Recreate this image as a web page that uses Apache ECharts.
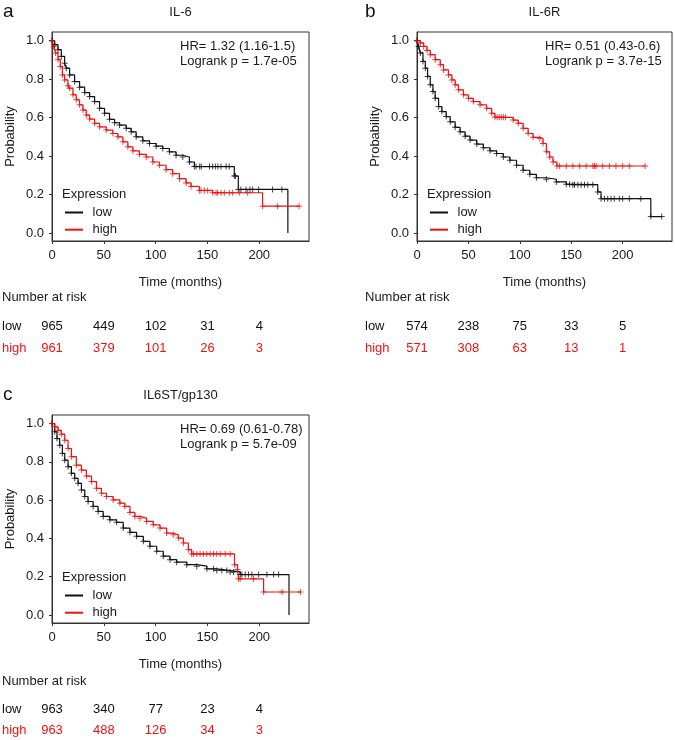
<!DOCTYPE html>
<html><head><meta charset="utf-8">
<script src="https://cdn.jsdelivr.net/npm/echarts@6/dist/echarts.min.js"></script>
<style>html,body{margin:0;padding:0;background:#fff}#c{width:675px;height:740px}</style>
</head><body><div id="c"></div><script>
// ---------- data ----------
const xTicks = [0, 50, 100, 150, 200];
const yTicks = [0, 0.2, 0.4, 0.6, 0.8, 1.0];
const riskTimes = [0, 50, 100, 150, 200];
const riskRows = ['low', 'high'];

// Panel a: IL-6
const aLow = [[0,1],[2.6,0.979],[5.8,0.953],[9,0.918],[12.2,0.883],[13.8,0.857],[17,0.822],[21.8,0.787],[26.6,0.758],[31.5,0.73],[36.3,0.709],[41.1,0.683],[45.9,0.648],[50.7,0.622],[55.5,0.591],[60.4,0.573],[65.2,0.561],[71.6,0.544],[76.4,0.526],[81.2,0.5],[87.6,0.479],[94.1,0.465],[100.5,0.451],[106.9,0.439],[113.3,0.422],[119.7,0.404],[126.2,0.395],[132.6,0.369],[137.4,0.345],[175.9,0.296],[179.8,0.226],[227.6,0]];
const aLowCens = [[139,0.345],[142.5,0.345],[144,0.345],[152,0.345],[155,0.345],[157.6,0.345],[160,0.345],[163,0.345],[168,0.345],[171,0.345],[177,0.296],[182.3,0.226],[187.2,0.226],[191,0.226],[193.6,0.226],[199.4,0.226],[212.8,0.226],[221.8,0.226]];
const aHigh = [[0,1],[1.6,0.97],[3.5,0.936],[5.8,0.901],[8,0.866],[10,0.822],[12.2,0.796],[15.4,0.765],[17,0.753],[20.2,0.718],[23.4,0.692],[26.6,0.666],[29.9,0.639],[33.1,0.613],[36.3,0.592],[41.1,0.57],[45.9,0.552],[52.3,0.535],[58.7,0.517],[63.6,0.5],[68.4,0.474],[73.2,0.448],[78,0.427],[84.4,0.409],[90.9,0.395],[97.3,0.369],[103.7,0.352],[110.1,0.329],[116.5,0.308],[123,0.282],[129.4,0.26],[134.2,0.242],[142.2,0.221],[155.1,0.209],[203.2,0.139],[238.5,0.139]];
const aHighCens = [[143.8,0.221],[147,0.221],[150.2,0.221],[158.3,0.209],[159.8,0.209],[163.1,0.209],[166.3,0.209],[171.1,0.209],[174.3,0.209],[180.7,0.209],[188.8,0.209],[217.7,0.139]];
const aRiskLow = [965, 449, 102, 31, 4];
const aRiskHigh = [961, 379, 101, 26, 3];

// Panel b: IL-6R
const bLow = [[0,1],[1.6,0.97],[3.2,0.936],[5.8,0.892],[8.1,0.857],[10.3,0.814],[12.9,0.77],[15.5,0.735],[17.7,0.7],[21,0.657],[24.2,0.631],[28.4,0.605],[32.3,0.578],[37.1,0.549],[41.9,0.526],[46.8,0.503],[51.6,0.483],[58.1,0.462],[64.5,0.443],[71,0.427],[77.4,0.413],[83.9,0.395],[90.3,0.378],[96.8,0.352],[103.2,0.326],[109.7,0.305],[116.1,0.287],[125.8,0.279],[135.5,0.265],[145.2,0.253],[151.6,0.251],[175.8,0.213],[179,0.178],[227.4,0.085],[238,0.085]];
const bLowCens = [[148.4,0.253],[153.2,0.251],[156.5,0.251],[159.7,0.251],[162.9,0.251],[166.1,0.251],[171,0.251],[182.3,0.178],[185.5,0.178],[188.7,0.178],[191.9,0.178],[196.8,0.178],[200,0.178],[206.5,0.178],[217.7,0.178]];
const bHigh = [[0,1],[3.2,0.988],[6.5,0.97],[9.7,0.949],[12.9,0.927],[17.7,0.901],[22.6,0.875],[25.8,0.848],[30.6,0.822],[33.9,0.796],[37.1,0.77],[40.3,0.744],[45.2,0.718],[50,0.7],[54.8,0.683],[61.3,0.666],[67.7,0.648],[72.6,0.622],[75.8,0.601],[93.5,0.587],[98.4,0.57],[103.2,0.544],[108.1,0.517],[112.9,0.497],[119.4,0.491],[122.6,0.465],[125.8,0.422],[129,0.395],[132.3,0.369],[136.1,0.348],[221.9,0.348]];
const bHighCens = [[78,0.601],[80,0.601],[82,0.601],[84,0.601],[86,0.601],[138.7,0.348],[145.2,0.348],[151.6,0.348],[158.1,0.348],[164.5,0.348],[171,0.348],[172.6,0.348],[174.2,0.348],[180.6,0.348],[187.1,0.348],[193.5,0.348],[200,0.348],[206.5,0.348]];
const bRiskLow = [574, 238, 75, 33, 5];
const bRiskHigh = [571, 308, 63, 13, 1];

// Panel c: IL6ST/gp130
const cLow = [[0,1],[2.6,0.957],[4.8,0.922],[7.4,0.887],[10,0.844],[12.3,0.809],[15.5,0.775],[18.7,0.74],[21.9,0.714],[25.2,0.688],[28.4,0.653],[31.6,0.619],[34.8,0.593],[39.7,0.567],[44.5,0.541],[49.4,0.515],[55.8,0.497],[62.3,0.484],[68.7,0.454],[75.2,0.432],[81.6,0.411],[88.1,0.385],[94.5,0.359],[101,0.333],[107.4,0.307],[113.9,0.289],[120.3,0.276],[130,0.263],[139.7,0.255],[149.4,0.241],[159,0.232],[171.9,0.225],[181.6,0.211],[228.7,0]];
const cLowCens = [[155.8,0.241],[163.9,0.232],[168.7,0.232],[175.2,0.225],[183.2,0.211],[186.5,0.211],[189.7,0.211],[192.9,0.211],[199.4,0.211],[207.4,0.211],[213.9,0.211],[218.7,0.211]];
const cHigh = [[0,1],[2.6,0.983],[5.8,0.965],[9,0.945],[12.3,0.913],[15.5,0.87],[18.7,0.827],[23.5,0.783],[28.4,0.757],[33.2,0.726],[38.1,0.697],[42.9,0.662],[47.7,0.636],[52.6,0.619],[59,0.601],[65.5,0.584],[70.3,0.567],[75.2,0.536],[80,0.515],[84.8,0.506],[91.3,0.489],[97.7,0.471],[104.2,0.454],[110.6,0.428],[117.1,0.419],[121.9,0.402],[126.8,0.376],[131.6,0.341],[134.8,0.319],[176.1,0.263],[179,0.237],[180,0.189],[204.2,0.12],[239.7,0.12]];
const cHighCens = [[136.5,0.319],[139.7,0.319],[142.9,0.319],[146.1,0.319],[149.4,0.319],[152.6,0.319],[155.8,0.319],[159,0.319],[162.3,0.319],[167.1,0.319],[171.9,0.319],[181.6,0.189],[194.5,0.189],[221.9,0.12]];
const cRiskLow = [963, 340, 77, 23, 4];
const cRiskHigh = [963, 488, 126, 34, 3];

// ---------- layout / style ----------
const FONT = '"Liberation Sans", Arial, Helvetica, sans-serif';
const RED = '#f01212';
const BLACK = '#111111';
const AX = '#333333';
const PLUS = 'path://M2.5,0H3.5V2.5H6V3.5H3.5V6H2.5V3.5H0V2.5H2.5Z';
const XMAX = 248, YMIN = -0.042, YMAX = 1.045;

const panels = [
  {grid:{left:52, top:32, width:257, height:209}, risk:{top:316, height:43}, nar:[2,297.5], letter:['a',3,12],
   title:'IL-6', hr:'HR= 1.32 (1.16-1.5)', p:'Logrank p = 1.7e-05', ylMargin:50,
   low:aLow, high:aHigh, lowC:aLowCens, highC:aHighCens, rLow:aRiskLow, rHigh:aRiskHigh},
  {grid:{left:417, top:32, width:255, height:209}, risk:{top:316, height:43}, nar:[365,297.5], letter:['b',365,12],
   title:'IL-6R', hr:'HR= 0.51 (0.43-0.6)', p:'Logrank p = 3.7e-15', ylMargin:52,
   low:bLow, high:bHigh, lowC:bLowCens, highC:bHighCens, rLow:bRiskLow, rHigh:bRiskHigh},
  {grid:{left:52, top:415, width:257, height:208}, risk:{top:698.5, height:43}, nar:[2,681], letter:['c',3,395],
   title:'IL6ST/gp130', hr:'HR= 0.69 (0.61-0.78)', p:'Logrank p = 5.7e-09', ylMargin:50,
   low:cLow, high:cHigh, lowC:cLowCens, highC:cHighCens, rLow:cRiskLow, rHigh:cRiskHigh}
];

const grids = [], xAxes = [], yAxes = [], series = [], graphics = [];
const txt = (text, x, y, opt) => ({type:'text', x, y, silent:true,
  style: Object.assign({text, font:'13px ' + FONT, fill:'#1a1a1a', textVerticalAlign:'middle'}, opt||{})});

panels.forEach((P, i) => {
  grids[i] = Object.assign({show:true, borderColor:AX, borderWidth:1, backgroundColor:'transparent', containLabel:false, outerBoundsMode:'none'}, P.grid);
  xAxes[i] = {type:'value', gridIndex:i, min:0, max:XMAX,
    name:'Time (months)', nameLocation:'middle', nameGap:35,
    nameTextStyle:{fontFamily:FONT, fontSize:13, color:'#1a1a1a'},
    axisLine:{show:true, onZero:false, lineStyle:{color:AX, width:1}},
    axisTick:{show:true, inside:false, length:3, customValues:xTicks, lineStyle:{color:AX}},
    axisLabel:{customValues:xTicks, margin:8, fontFamily:FONT, fontSize:13, color:'#1a1a1a'},
    splitLine:{show:false}};
  yAxes[i] = {type:'value', gridIndex:i, min:YMIN, max:YMAX,
    name:'Probability', nameLocation:'middle', nameGap:35, nameRotate:90,
    nameTextStyle:{fontFamily:FONT, fontSize:13, color:'#1a1a1a'},
    axisLine:{show:true, onZero:false, lineStyle:{color:AX, width:1}},
    axisTick:{show:true, inside:false, length:3, customValues:yTicks, lineStyle:{color:AX}},
    axisLabel:{customValues:yTicks, margin:8, fontFamily:FONT, fontSize:13, color:'#1a1a1a',
      formatter: v => Number(v).toFixed(1)},
    splitLine:{show:false}};

  [['low', P.low, P.lowC, BLACK], ['high', P.high, P.highC, RED]].forEach(([name, pts, cens, col]) => {
    series.push({type:'line', name, xAxisIndex:i, yAxisIndex:i, step:'end', data:pts,
      showSymbol:false, lineStyle:{color:col, width:1.2}, itemStyle:{color:col}, animation:false, z:2});
    series.push({type:'scatter', name, xAxisIndex:i, yAxisIndex:i,
      data: pts.filter(p => p[1] > 0).concat(cens),
      symbol:PLUS, symbolSize:6, itemStyle:{color:col, borderWidth:0, opacity:0.8}, animation:false, z:3});
  });

  // risk table grid (shares the same time scale)
  const ri = i + 3;
  grids[ri] = {left:P.grid.left, width:P.grid.width, top:P.risk.top, height:P.risk.height, show:false, containLabel:false, outerBoundsMode:'none'};
  xAxes[ri] = {type:'value', gridIndex:ri, min:0, max:XMAX, show:false};
  yAxes[ri] = {type:'category', gridIndex:ri, data:riskRows, inverse:true,
    axisLine:{show:false}, axisTick:{show:false}, splitLine:{show:false},
    axisLabel:{align:'left', margin:P.ylMargin, fontFamily:FONT, fontSize:13,
      color: v => v === 'high' ? RED : BLACK}};
  [[0, P.rLow, BLACK], [1, P.rHigh, RED]].forEach(([row, vals, col]) => {
    series.push({type:'scatter', xAxisIndex:ri, yAxisIndex:ri, symbol:'circle', symbolSize:1,
      itemStyle:{color:'#ffffff', opacity:1}, animation:false, silent:true,
      data: riskTimes.map((t, j) => [t, row, vals[j]]),
      label:{show:true, position:'inside', formatter: p => String(p.value[2]),
        fontFamily:FONT, fontSize:13, color:col, textBorderWidth:0, textBorderColor:'transparent', opacity:1}});
  });

  // annotations
  const gl = P.grid.left, gt = P.grid.top, gw = P.grid.width;
  graphics.push(txt(P.letter[0], P.letter[1], P.letter[2], {font:'19px ' + FONT, fill:'#111'}));
  graphics.push(txt(P.title, gl + gw/2, gt - 19.5, {textAlign:'center'}));
  graphics.push(txt(P.hr, gl + 128, gt + 14));
  graphics.push(txt(P.p, gl + 128, gt + 29.5));
  graphics.push(txt('Expression', gl + 10, gt + 162.5));
  graphics.push({type:'line', silent:true, shape:{x1:gl+13, y1:gt+180.5, x2:gl+31, y2:gt+180.5}, style:{stroke:BLACK, lineWidth:2}});
  graphics.push({type:'line', silent:true, shape:{x1:gl+13, y1:gt+197.7, x2:gl+31, y2:gt+197.7}, style:{stroke:RED, lineWidth:2}});
  graphics.push(txt('low', gl + 40.5, gt + 180.5));
  graphics.push(txt('high', gl + 40.5, gt + 197.7));
  graphics.push(txt('Number at risk', P.nar[0], P.nar[1]));
});

const chart = echarts.init(document.getElementById('c'), null, {renderer:'canvas'});
chart.setOption({
  backgroundColor:'#ffffff',
  animation:false,
  textStyle:{fontFamily:FONT},
  grid:grids, xAxis:xAxes, yAxis:yAxes, series, graphic:graphics
});
</script></body></html>
